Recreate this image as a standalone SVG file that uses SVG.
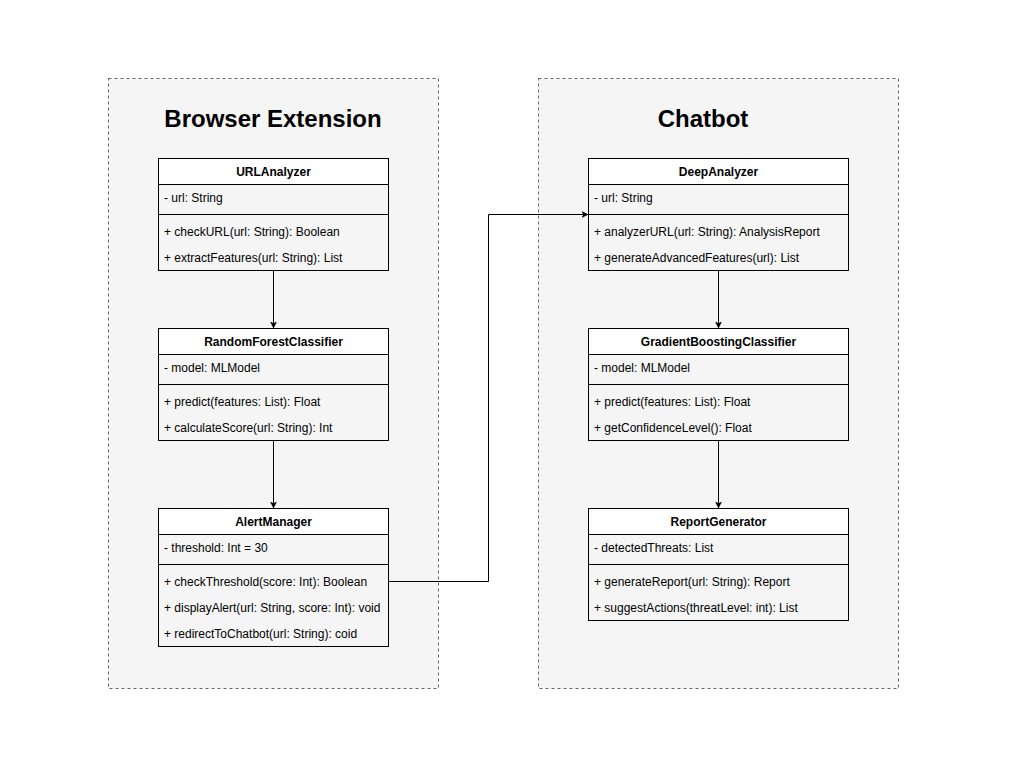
<svg xmlns="http://www.w3.org/2000/svg" width="1020" height="766" viewBox="0 0 1020 766">
<defs>
<style>
.cont{fill:#f5f5f5;stroke:#666;stroke-dasharray:3 3;stroke-width:1}
.title{font-family:"Liberation Sans",Arial,sans-serif;font-size:24px;font-weight:bold;fill:#000;text-anchor:middle}
.hdr{fill:#fff;stroke:#000;stroke-width:1}
.body{fill:#f5f5f5;stroke:#000;stroke-width:1}
.ln{stroke:#000;stroke-width:1;fill:none}
.cn{font-family:"Liberation Sans",Arial,sans-serif;font-size:12px;font-weight:bold;fill:#000;text-anchor:middle}
.tx{font-family:"Liberation Sans",Arial,sans-serif;font-size:12px;fill:#000}
.edge{stroke:#000;stroke-width:1;fill:none;marker-end:url(#arr)}
</style>
<marker id="arr" viewBox="0 0 10 10" refX="10" refY="5" markerWidth="7" markerHeight="7" orient="auto" markerUnits="userSpaceOnUse">
<path d="M0,0 L10,5 L0,10 L2.5,5 Z" fill="#000"/>
</marker>
</defs>
<rect width="1020" height="766" fill="#fff"/>
<g id="browser-extension">
<rect class="cont" x="108.5" y="78.5" width="330" height="610"/>
<text class="title" x="273" y="127">Browser Extension</text>
</g>
<g id="chatbot">
<rect class="cont" x="538.5" y="78.5" width="360" height="610"/>
<text class="title" x="703" y="127">Chatbot</text>
</g>
<g id="URLAnalyzer">
<rect class="body" x="158.5" y="158.5" width="230" height="112"/>
<rect class="hdr" x="158.5" y="158.5" width="230" height="26"/>
<line class="ln" x1="158.5" y1="214.5" x2="388.5" y2="214.5"/>
<text class="cn" x="273.5" y="176">URLAnalyzer</text>
<text class="tx" x="164" y="202">- url: String</text>
<text class="tx" x="164" y="236">+ checkURL(url: String): Boolean</text>
<text class="tx" x="164" y="262">+ extractFeatures(url: String): List</text>
</g>
<g id="RandomForestClassifier">
<rect class="body" x="158.5" y="328.5" width="230" height="112"/>
<rect class="hdr" x="158.5" y="328.5" width="230" height="26"/>
<line class="ln" x1="158.5" y1="384.5" x2="388.5" y2="384.5"/>
<text class="cn" x="273.5" y="346">RandomForestClassifier</text>
<text class="tx" x="164" y="372">- model: MLModel</text>
<text class="tx" x="164" y="406">+ predict(features: List): Float</text>
<text class="tx" x="164" y="432">+ calculateScore(url: String): Int</text>
</g>
<g id="AlertManager">
<rect class="body" x="158.5" y="508.5" width="230" height="138"/>
<rect class="hdr" x="158.5" y="508.5" width="230" height="26"/>
<line class="ln" x1="158.5" y1="564.5" x2="388.5" y2="564.5"/>
<text class="cn" x="273.5" y="526">AlertManager</text>
<text class="tx" x="164" y="552">- threshold: Int = 30</text>
<text class="tx" x="164" y="586">+ checkThreshold(score: Int): Boolean</text>
<text class="tx" x="164" y="612">+ displayAlert(url: String, score: Int): void</text>
<text class="tx" x="164" y="638">+ redirectToChatbot(url: String): coid</text>
</g>
<g id="DeepAnalyzer">
<rect class="body" x="588.5" y="158.5" width="260" height="112"/>
<rect class="hdr" x="588.5" y="158.5" width="260" height="26"/>
<line class="ln" x1="588.5" y1="214.5" x2="848.5" y2="214.5"/>
<text class="cn" x="718.5" y="176">DeepAnalyzer</text>
<text class="tx" x="594" y="202">- url: String</text>
<text class="tx" x="594" y="236">+ analyzerURL(url: String): AnalysisReport</text>
<text class="tx" x="594" y="262">+ generateAdvancedFeatures(url): List</text>
</g>
<g id="GradientBoostingClassifier">
<rect class="body" x="588.5" y="328.5" width="260" height="112"/>
<rect class="hdr" x="588.5" y="328.5" width="260" height="26"/>
<line class="ln" x1="588.5" y1="384.5" x2="848.5" y2="384.5"/>
<text class="cn" x="718.5" y="346">GradientBoostingClassifier</text>
<text class="tx" x="594" y="372">- model: MLModel</text>
<text class="tx" x="594" y="406">+ predict(features: List): Float</text>
<text class="tx" x="594" y="432">+ getConfidenceLevel(): Float</text>
</g>
<g id="ReportGenerator">
<rect class="body" x="588.5" y="508.5" width="260" height="112"/>
<rect class="hdr" x="588.5" y="508.5" width="260" height="26"/>
<line class="ln" x1="588.5" y1="564.5" x2="848.5" y2="564.5"/>
<text class="cn" x="718.5" y="526">ReportGenerator</text>
<text class="tx" x="594" y="552">- detectedThreats: List</text>
<text class="tx" x="594" y="586">+ generateReport(url: String): Report</text>
<text class="tx" x="594" y="612">+ suggestActions(threatLevel: int): List</text>
</g>
<g id="connectors">
<path class="edge" d="M273.5,270.5 V328.5"/>
<path class="edge" d="M273.5,440.5 V508.5"/>
<path class="edge" d="M718.5,270.5 V328.5"/>
<path class="edge" d="M718.5,440.5 V508.5"/>
<path class="edge" d="M388.5,581.5 H488.5 V214.5 H588.5"/>
</g>
</svg>
